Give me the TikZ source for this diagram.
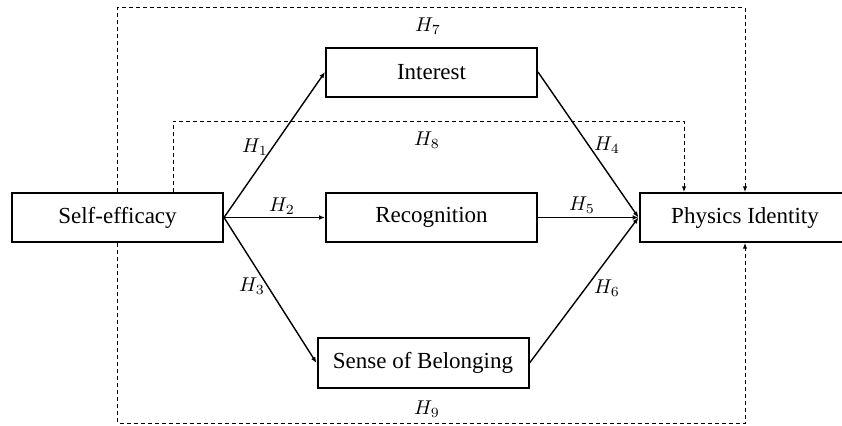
\documentclass[tikz,border=0pt]{standalone}
\usepackage{fontspec}
\setmainfont{Liberation Serif}
\usetikzlibrary{arrows.meta,calc}

\begin{document}
\begin{tikzpicture}[x=0.5pt,y=-0.5pt,
    box/.style={draw,line width=1pt,minimum width=105.5pt,minimum height=24.5pt,inner sep=0pt,font=\fontsize{11.5}{13}\selectfont},
    hyp/.style={line width=0.7pt,-{Latex[length=3pt,width=2.4pt]}},
    link/.style={line width=0.5pt,dash pattern=on 2pt off 1.5pt,-{Latex[length=2.8pt,width=2.2pt]}},
    lab/.style={inner sep=0pt,font=\fontsize{10}{11}\selectfont}]
    \useasboundingbox (0,0) rectangle (842,425);
    %% Constructs
    \node[box] (SE) at (117.5,217.5) {Self-efficacy};
    \node[box] (IN) at (431.5,72) {Interest};
    \node[box] (RE) at (431.5,217.5) {Recognition};
    \node[box,minimum height=25pt] (SB) at (423,363) {Sense of Belonging};
    \node[box] (PI) at (745,217.5) {Physics Identity};
    %% Direct paths
    \draw[hyp] (SE.east) -- (IN.west);
    \draw[hyp] (SE.east) -- (RE.west);
    \draw[hyp] (SE.east) -- (SB.west);
    \draw[hyp] (IN.east) -- (PI.west);
    \draw[hyp] (RE.east) -- (PI.west);
    \draw[hyp] (SB.east) -- (PI.west);
    %% Indirect paths
    \coordinate (top7) at (430,7.5);
    \coordinate (top8) at (430,121);
    \coordinate (bot9) at (430,423);
    \draw[link] (SE.north) |- (top7) -| (PI.north);
    \draw[link] ($(SE.north)+(55.5,0)$) |- (top8) -| ($(PI.north)+(-61,0)$);
    \draw[link] (SE.south) |- (bot9) -| (PI.south);
    %% Labels
    \node[lab] (h1) at (255,147) {$H_1$};
    \node[lab] (h2) at (282,206) {$H_2$};
    \node[lab] (h3) at (252,286) {$H_3$};
    \node[lab] (h4) at (607,145) {$H_4$};
    \node[lab] (h5) at (582,205) {$H_5$};
    \node[lab] (h6) at (607,288) {$H_6$};
    \node[lab] (h7) at (428,26) {$H_7$};
    \node[lab] (h8) at (427,140) {$H_8$};
    \node[lab] (h9) at (427,409) {$H_9$};
\end{tikzpicture}
\end{document}
